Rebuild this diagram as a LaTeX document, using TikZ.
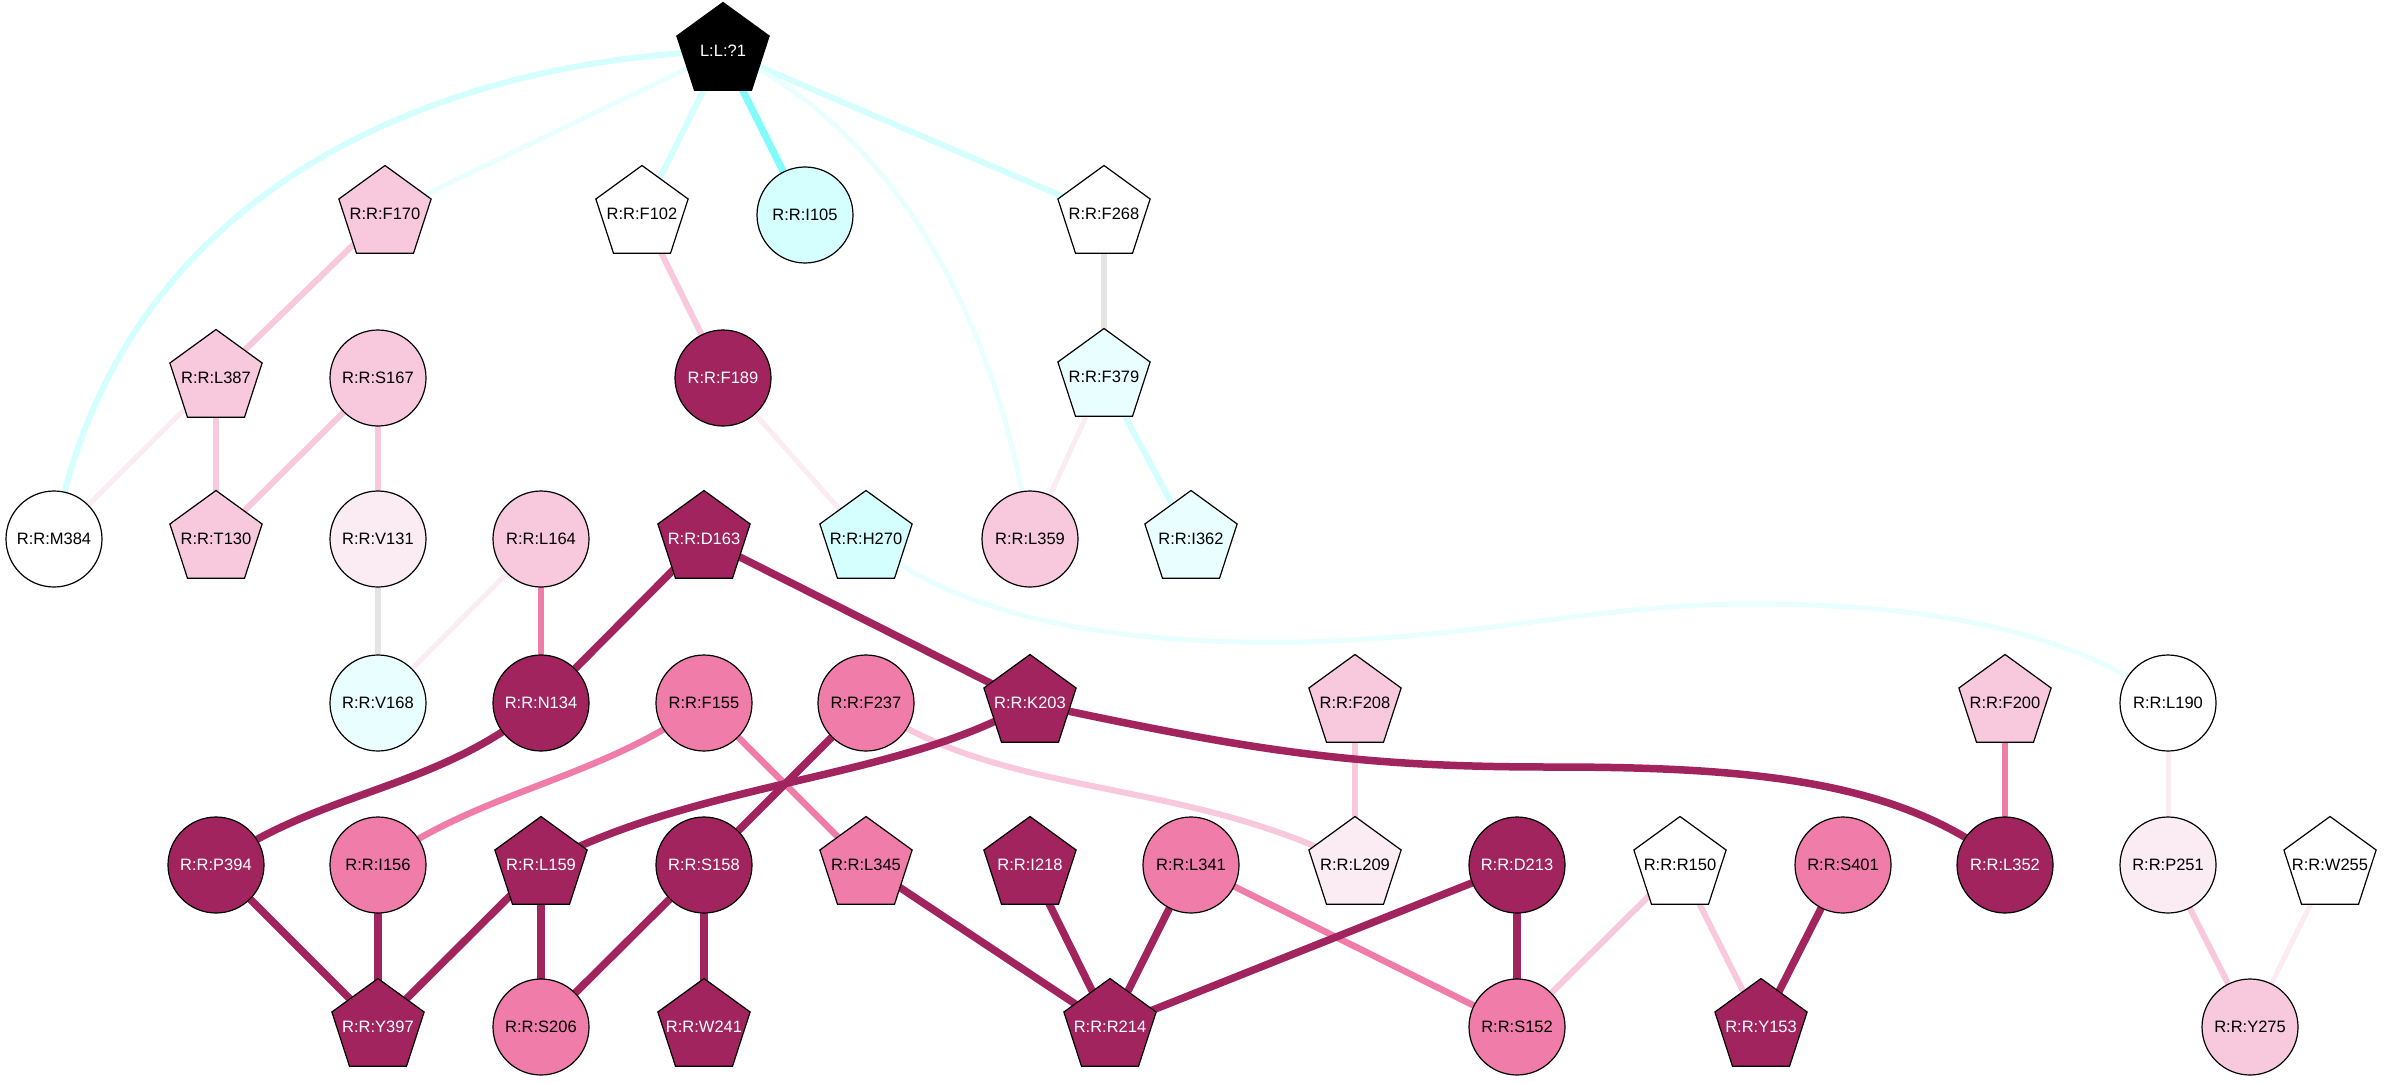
\documentclass[tikz,border=0pt]{standalone}
\usepackage{fontspec}
\usetikzlibrary{shapes.geometric}
\newfontfamily\lblfamily{Liberation Sans}
\newcommand\nodefont{\lblfamily\fontsize{16.5}{18}\selectfont}
\newcommand\pz[1]{\makebox[0pt][c]{#1}}
\definecolor{cMaroon}{RGB}{162,36,94}
\definecolor{cMid}{RGB}{240,124,169}
\definecolor{cLP}{RGB}{248,200,220}
\definecolor{cVLP}{RGB}{251,235,242}
\definecolor{cCyan}{RGB}{213,254,254}
\definecolor{cVLCyan}{RGB}{233,255,255}
\definecolor{cBright}{RGB}{128,252,252}
\definecolor{cGray}{RGB}{228,228,228}
\pgfdeclarelayer{background}
\pgfsetlayers{background,main}
\tikzset{
  nd/.style={draw=black, line width=1.2pt, inner sep=0pt, font=\nodefont},
  circ/.style={nd, circle, minimum size=96pt},
  pent/.style={nd, regular polygon, regular polygon sides=5, minimum size=97pt},
  nblack/.style={fill=black, text=white},
  nmar/.style={fill=cMaroon, text=white},
  nmid/.style={fill=cMid},
  nlp/.style={fill=cLP},
  nvlp/.style={fill=cVLP},
  ncyan/.style={fill=cCyan},
  nvlcyan/.style={fill=cVLCyan},
  nwhite/.style={fill=white},
  emar/.style={draw=cMaroon, line width=7.5pt},
  emid/.style={draw=cMid, line width=6.5pt},
  elp/.style={draw=cLP, line width=6pt},
  evlp/.style={draw=cVLP, line width=5pt},
  egray/.style={draw=cGray, line width=6pt},
  ebright/.style={draw=cBright, line width=7pt},
  elcyan/.style={draw=cCyan, line width=6pt},
  evlcyan/.style={draw=cVLCyan, line width=5pt},
}
\begin{document}
\begin{tikzpicture}[x=1pt, y=-1pt]
\useasboundingbox (0,0) rectangle (2384,1083);
% row 0
\node[pent, nblack] (L1) at (723,51) {\pz{L:L:?1}};
% row 1
\node[pent, nlp] (F170) at (385,214) {\pz{R:R:F170}};
\node[pent, nwhite] (F102) at (642,214) {\pz{R:R:F102}};
\node[circ, ncyan] (I105) at (805,215) {R:R:I105};
\node[pent, nwhite] (F268) at (1104,214) {\pz{R:R:F268}};
% row 2
\node[pent, nlp] (L387) at (216,378) {\pz{R:R:L387}};
\node[circ, nlp] (S167) at (378,378) {R:R:S167};
\node[circ, nmar] (F189) at (723,378) {R:R:F189};
\node[pent, nvlcyan] (F379) at (1104,377) {\pz{R:R:F379}};
% row 3
\node[circ, nwhite] (M384) at (54,539) {R:R:M384};
\node[pent, nlp] (T130) at (216,539) {\pz{R:R:T130}};
\node[circ, nvlp] (V131) at (378,539) {R:R:V131};
\node[circ, nlp] (L164) at (541,539) {R:R:L164};
\node[pent, nmar] (D163) at (704,539) {\pz{R:R:D163}};
\node[pent, ncyan] (H270) at (866,539) {\pz{R:R:H270}};
\node[circ, nlp] (L359) at (1030,539) {R:R:L359};
\node[pent, nvlcyan] (I362) at (1191,539) {\pz{R:R:I362}};
% row 4
\node[circ, nvlcyan] (V168) at (378,703) {R:R:V168};
\node[circ, nmar] (N134) at (541,703) {R:R:N134};
\node[circ, nmid] (F155) at (704,703) {R:R:F155};
\node[circ, nmid] (F237) at (866,703) {R:R:F237};
\node[pent, nmar] (K203) at (1030,703) {\pz{R:R:K203}};
\node[pent, nlp] (F208) at (1355,703) {\pz{R:R:F208}};
\node[pent, nlp] (F200) at (2005,703) {\pz{R:R:F200}};
\node[circ, nwhite] (L190) at (2168,703) {R:R:L190};
% row 5
\node[circ, nmar] (P394) at (216,865) {R:R:P394};
\node[circ, nmid] (I156) at (378,865) {R:R:I156};
\node[pent, nmar] (L159) at (541,865) {\pz{R:R:L159}};
\node[circ, nmar] (S158) at (704,865) {R:R:S158};
\node[pent, nmid] (L345) at (866,865) {\pz{R:R:L345}};
\node[pent, nmar] (I218) at (1030,865) {\pz{R:R:I218}};
\node[circ, nmid] (L341) at (1191,865) {R:R:L341};
\node[pent, nvlp] (L209) at (1355,865) {\pz{R:R:L209}};
\node[circ, nmar] (D213) at (1517,865) {R:R:D213};
\node[pent, nwhite] (R150) at (1680,865) {\pz{R:R:R150}};
\node[circ, nmid] (S401) at (1843,865) {R:R:S401};
\node[circ, nmar] (L352) at (2005,865) {R:R:L352};
\node[circ, nvlp] (P251) at (2168,865) {R:R:P251};
\node[pent, nwhite] (W255) at (2330,865) {\pz{R:R:W255}};
% row 6
\node[pent, nmar] (Y397) at (378,1027) {\pz{R:R:Y397}};
\node[circ, nmid] (S206) at (541,1027) {R:R:S206};
\node[pent, nmar] (W241) at (704,1027) {\pz{R:R:W241}};
\node[pent, nmar] (R214) at (1110,1027) {\pz{R:R:R214}};
\node[circ, nmid] (S152) at (1517,1027) {R:R:S152};
\node[pent, nmar] (Y153) at (1761,1027) {\pz{R:R:Y153}};
\node[circ, nlp] (Y275) at (2250,1027) {R:R:Y275};

\begin{pgfonlayer}{background}
% cyan / ligand edges
\draw[elcyan] (L1.center) .. controls (450,60) and (120,180) .. (M384.center);
\draw[evlcyan] (L1.center) -- (F170.center);
\draw[elcyan] (L1.center) -- (F102.center);
\draw[ebright] (L1.center) -- (I105.center);
\draw[elcyan] (L1.center) -- (F268.center);
\draw[evlcyan] (L1.center) .. controls (900,130) and (1000,330) .. (L359.center);
\draw[elcyan] (F379.center) -- (I362.center);
\draw[evlcyan] (H270.center) .. controls (960,620) and (1120,645) .. (1300,642)
   .. controls (1480,638) and (1600,604) .. (1750,604)
   .. controls (1930,604) and (2070,630) .. (L190.center);
% gray
\draw[egray] (F268.center) -- (F379.center);
\draw[egray] (V131.center) -- (V168.center);
% light pink
\draw[elp] (F170.center) -- (L387.center);
\draw[elp] (F102.center) -- (F189.center);
\draw[elp] (L387.center) -- (T130.center);
\draw[elp] (S167.center) -- (T130.center);
\draw[elp] (S167.center) -- (V131.center);
\draw[elp] (F237.center) .. controls (1000,800) and (1180,775) .. (L209.center);
\draw[elp] (F208.center) -- (L209.center);
\draw[elp] (R150.center) -- (S152.center);
\draw[elp] (R150.center) -- (Y153.center);
\draw[elp] (P251.center) -- (Y275.center);
% very light pink
\draw[evlp] (L387.center) -- (M384.center);
\draw[evlp] (F189.center) -- (H270.center);
\draw[evlp] (F379.center) -- (L359.center);
\draw[evlp] (L164.center) -- (V168.center);
\draw[evlp] (L190.center) -- (P251.center);
\draw[evlp] (W255.center) -- (Y275.center);
% medium pink
\draw[emid] (L164.center) -- (N134.center);
\draw[emid] (F155.center) .. controls (600,780) and (480,790) .. (I156.center);
\draw[emid] (F155.center) -- (L345.center);
\draw[emid] (L341.center) -- (S152.center);
\draw[emid] (F200.center) -- (L352.center);
% maroon
\draw[emar] (D163.center) -- (N134.center);
\draw[emar] (D163.center) -- (K203.center);
\draw[emar] (N134.center) .. controls (440,790) and (320,790) .. (P394.center);
\draw[emar] (K203.center) .. controls (900,780) and (700,780) .. (L159.center);
\draw[emar] (K203.center) .. controls (1250,750) and (1350,767) .. (1550,767)
   .. controls (1750,767) and (1900,780) .. (L352.center);
\draw[emar] (F237.center) -- (S158.center);
\draw[emar] (P394.center) -- (Y397.center);
\draw[emar] (I156.center) -- (Y397.center);
\draw[emar] (L159.center) -- (Y397.center);
\draw[emar] (L159.center) -- (S206.center);
\draw[emar] (S158.center) -- (S206.center);
\draw[emar] (S158.center) -- (W241.center);
\draw[emar] (L345.center) -- (R214.center);
\draw[emar] (I218.center) -- (R214.center);
\draw[emar] (L341.center) -- (R214.center);
\draw[emar] (D213.center) -- (R214.center);
\draw[emar] (D213.center) -- (S152.center);
\draw[emar] (S401.center) -- (Y153.center);
\end{pgfonlayer}
\end{tikzpicture}
\end{document}
